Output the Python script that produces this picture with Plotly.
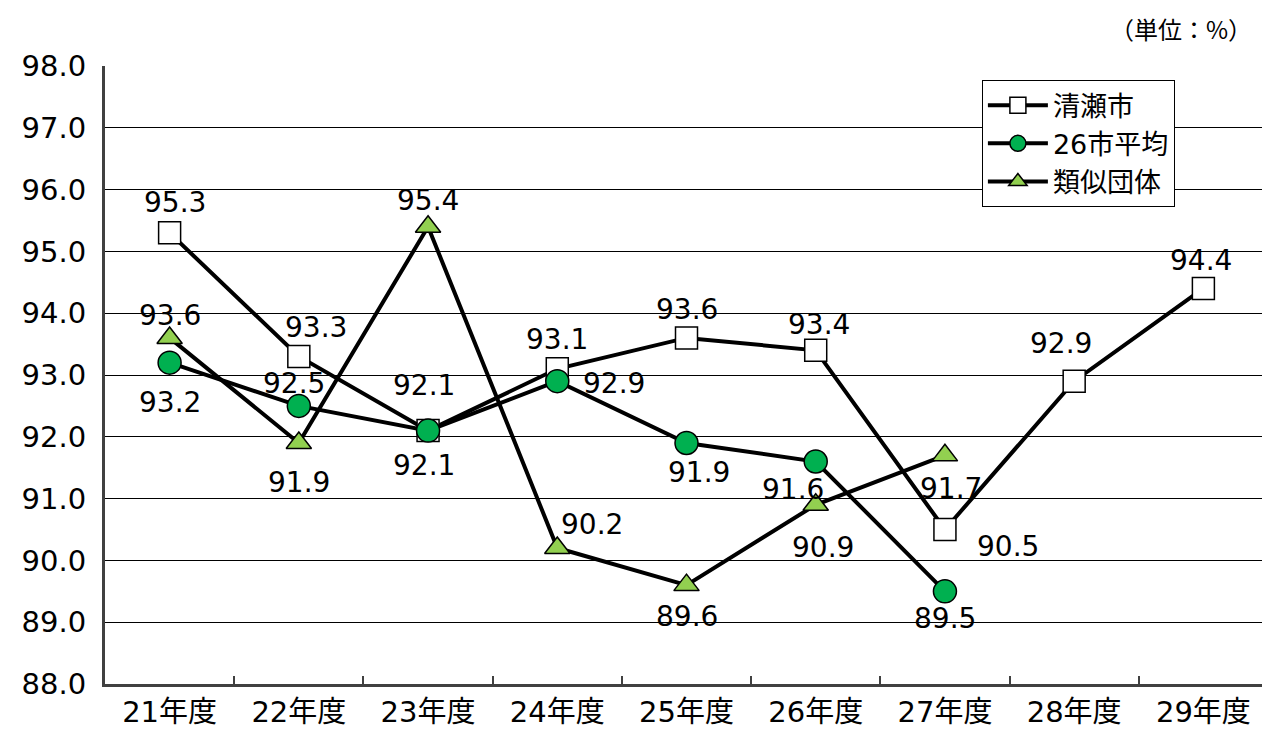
import plotly.graph_objects as go

categories = ["21年度", "22年度", "23年度", "24年度", "25年度", "26年度", "27年度", "28年度", "29年度"]
kiyose = [95.3, 93.3, 92.1, 93.1, 93.6, 93.4, 90.5, 92.9, 94.4]
avg26 = [93.2, 92.5, 92.1, 92.9, 91.9, 91.6, 89.5, None, None]
ruiji = [93.6, 91.9, 95.4, 90.2, 89.6, 90.9, 91.7, None, None]

# label offsets (xshift, yshift) in pixels
kiyose_off = [(5, 30), (17, 29), (-4, 45), (0, 29), (0, 28), (3, 26), (63, -17), (-13, 38), (-2, 28)]
avg26_off = [(0, -40), (-5, 22), (-4, -35), (57, -2), (12, -30), (-23, -28), (0, -27), None, None]
ruiji_off = [(0, 22), (0, -40), (0, 26), (35, 24), (0, -31), (7, -43), (6, -33), None, None]

FONT = "DejaVu Sans, Noto Sans CJK JP, sans-serif"
fig = go.Figure()

fig.add_trace(go.Scatter(
    x=categories, y=kiyose, name="清瀬市", mode="lines+markers",
    line=dict(color="black", width=4),
    marker=dict(symbol="square", size=22, color="white", line=dict(color="black", width=1.5)),
))
fig.add_trace(go.Scatter(
    x=categories, y=avg26, name="26市平均", mode="lines+markers",
    line=dict(color="black", width=4),
    marker=dict(symbol="circle", size=23, color="#00B050", line=dict(color="black", width=1.5)),
))
fig.add_trace(go.Scatter(
    x=categories, y=ruiji, name="類似団体", mode="lines+markers",
    line=dict(color="black", width=4),
    marker=dict(symbol="triangle-up", size=22, color="#92D050", line=dict(color="black", width=1.5)),
))

anns = []
for vals, offs in ((kiyose, kiyose_off), (avg26, avg26_off), (ruiji, ruiji_off)):
    for c, v, o in zip(categories, vals, offs):
        if v is None:
            continue
        anns.append(dict(x=c, y=v, text=f"{v:.1f}", showarrow=False, xref="x", yref="y",
                         xshift=o[0], yshift=o[1], font=dict(size=28, color="black", family=FONT)))

anns.append(dict(x=1.0, y=1.0, xref="paper", yref="paper", xanchor="right", yanchor="bottom",
                 yshift=18, xshift=-14, text="（単位：%）", showarrow=False,
                 font=dict(size=24, color="black", family="Noto Sans CJK JP")))

fig.update_layout(
    width=1262, height=727,
    margin=dict(l=97, r=2, t=58, b=51),
    paper_bgcolor="white", plot_bgcolor="white",
    font=dict(family=FONT, color="black"),
    annotations=anns,
    legend=dict(x=0.754, y=0.977, xanchor="left", yanchor="top",
                bgcolor="white", bordercolor="black", borderwidth=1,
                font=dict(size=27, family=FONT), tracegroupgap=0, itemwidth=60,
                entrywidth=225),
    showlegend=True,
)
fig.update_xaxes(
    type="category", tickson="boundaries", ticks="inside", ticklen=8, tickcolor="#404040", tickwidth=1.5,
    showline=True, linecolor="#404040", linewidth=3, showgrid=False, automargin=False,
    tickfont=dict(size=29, family=FONT), range=[-0.5, 8.5],
)
fig.update_yaxes(
    range=[88, 98], dtick=1, tickformat=".1f", showline=True, linecolor="#404040", linewidth=3,
    showgrid=True, gridcolor="black", gridwidth=1, zeroline=False, automargin=False,
    tickfont=dict(size=29, family=FONT), ticks="", ticklabelstandoff=10,
)

fig.write_html("out.html")
